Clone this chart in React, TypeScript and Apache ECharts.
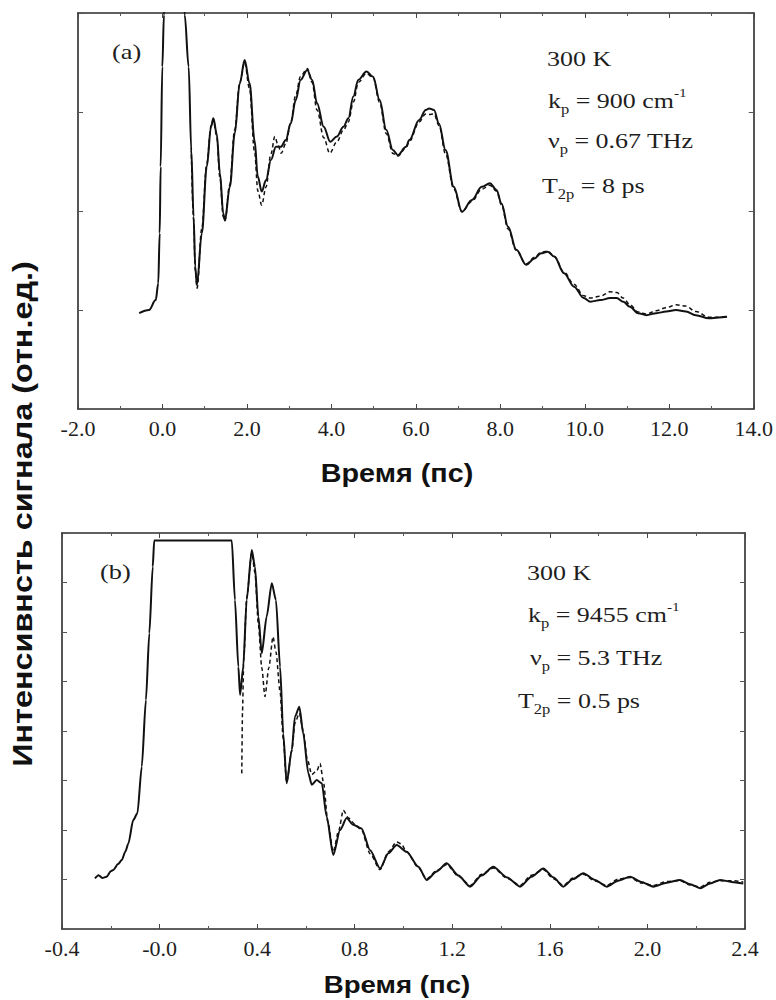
import React, { useEffect, useRef } from "react";
import * as echarts from "echarts";

// ---------- Panel (a) ----------
const topTime = [
  -0.55, -0.32, -0.16, -0.1, -0.066, -0.043, -0.004, 0.035, 0.12, 0.29, 0.45, 0.526, 0.62, 0.682, 0.737, 0.776,
  0.815, 0.932, 1.049, 1.15, 1.205, 1.283, 1.361, 1.439, 1.478, 1.595, 1.712, 1.829, 1.946, 2.063, 2.18, 2.257,
  2.351, 2.452, 2.569, 2.686, 2.803, 2.92, 3.037, 3.154, 3.271, 3.427, 3.544, 3.661, 3.817, 3.973, 4.129, 4.285,
  4.402, 4.519, 4.636, 4.83, 4.987, 5.142, 5.298, 5.455, 5.572, 5.766, 5.844, 6.078, 6.234, 6.312, 6.429, 6.546,
  6.702, 6.897, 7.092, 7.326, 7.56, 7.754, 7.91, 8.027, 8.183, 8.378, 8.612, 8.807, 8.963, 9.119, 9.275, 9.509,
  9.743, 9.977, 10.133, 10.367, 10.601, 10.756, 10.912, 11.068, 11.263, 11.458, 11.692, 11.926, 12.16, 12.394,
  12.627, 12.94, 13.174, 13.368,
];
const topSolid = [
  24.2, 25.0, 27.5, 31.7, 44.4, 61.2, 86.4, 99.5, 118, 126, 118, 99.5, 86.4, 65.4, 48.6, 35.9,
  31.3, 44.4, 61.2, 71.3, 73.4, 69.6, 59.5, 49.4, 47.6, 56.1, 69.6, 82.2, 88.1, 82.2, 67.9, 58.7,
  54.9, 57.8, 62.9, 66.2, 66.2, 67.9, 72.1, 78.0, 83.1, 85.6, 83.1, 77.2, 71.3, 67.5, 68.8, 71.3,
  73.4, 78.9, 83.1, 85.2, 83.9, 78.0, 70.5, 65.4, 64.1, 66.2, 67.9, 73.0, 75.5, 75.9, 75.5, 72.1,
  65.4, 56.1, 49.8, 52.8, 56.1, 57.0, 55.3, 51.9, 46.0, 40.2, 36.4, 38.0, 39.3, 39.7, 38.5, 34.3,
  30.9, 28.0, 27.1, 27.5, 28.0, 28.0, 27.1, 25.8, 24.2, 23.7, 24.2, 24.6, 25.0, 24.6,
  23.7, 22.9, 23.1, 23.3,
];
const topDashTime = [
  0.68, 0.737, 0.776, 0.82, 0.93, 1.049, 1.15, 1.205, 1.283, 1.36, 1.44, 1.48, 1.59, 1.71, 1.83, 1.946,
  2.06, 2.18, 2.26, 2.35, 2.45, 2.57, 2.66, 2.74, 2.81, 2.92, 3.04, 3.15, 3.27, 3.43, 3.54, 3.66,
  3.82, 3.96, 4.13, 4.29, 4.4, 4.52, 4.64, 4.83, 4.99, 5.14, 5.3, 5.46, 5.57, 5.77, 5.84, 6.08,
  6.23, 6.31, 6.43, 6.55, 6.7, 6.9, 7.09, 7.33, 7.56, 7.75, 7.91, 8.03, 8.18, 8.38, 8.61, 8.81,
  8.96, 9.12, 9.28, 9.51, 9.74, 9.98, 10.13, 10.37, 10.6, 10.76, 10.91, 11.07, 11.26, 11.46, 11.69, 11.93,
  12.16, 12.39, 12.63, 12.94, 13.17, 13.37,
];
const topDash = [
  66, 48, 35, 30.5, 45.5, 62, 71.5, 73, 69, 58.5, 48.5, 47.5, 56.5, 70.5, 82.5, 87.5,
  81, 65, 55, 51.5, 56, 64.5, 68.8, 66.5, 64.6, 67, 72.5, 79, 84, 86, 82.5, 75.5,
  68.5, 64.6, 67.5, 70.5, 72.5, 77.5, 82.5, 84.8, 83.5, 77.5, 69.5, 64.5, 63.8, 66, 67.5, 72.5,
  74.5, 74.4, 74.5, 71.5, 64.5, 55.5, 49.8, 52.5, 55.5, 56.5, 55, 51.5, 45.5, 40, 36.6, 38.3,
  39.5, 39.9, 38.5, 34.5, 31.5, 28.6, 28.0, 28.5, 29.6, 29.4, 28, 26.3, 24.5, 24, 24.8, 25.6,
  26.3, 26, 24.6, 23.2, 23.2, 23.4,
];

// ---------- Panel (b) ----------
const botTime = [
  -0.265, -0.25, -0.235, -0.217, -0.2, -0.19, -0.17, -0.155, -0.14, -0.128, -0.108, -0.091, -0.073, -0.056,
  -0.042, -0.028, -0.022, 0.296, 0.309, 0.323, 0.33, 0.343, 0.357, 0.378, 0.391, 0.405, 0.419, 0.439, 0.46,
  0.477, 0.494, 0.507, 0.521, 0.542, 0.555, 0.573, 0.589, 0.61, 0.624, 0.644, 0.665, 0.685, 0.712, 0.74,
  0.767, 0.794, 0.828, 0.863, 0.904, 0.938, 0.972, 1.013, 1.061, 1.095, 1.136, 1.177, 1.225, 1.273, 1.32,
  1.368, 1.425, 1.478, 1.525, 1.573, 1.615, 1.655, 1.695, 1.737, 1.785, 1.833, 1.88, 1.929, 1.975, 2.024,
  2.08, 2.133, 2.175, 2.216, 2.257, 2.298, 2.345, 2.393,
];
const botSolid = [
  12.8, 13.6, 12.9, 13.2, 14.6, 14.9, 16.4, 17.4, 19.6, 21.6, 27.5, 29.2, 41.0, 57.8,
  74.7, 91.5, 98.1, 98.1, 83.1, 66.2, 59.1, 66.2, 83.1, 95.7, 91.5, 78.9, 69.6, 78.9, 87.3,
  83.1, 66.2, 49.4, 36.8, 45.2, 53.6, 56.1, 49.4, 39.3, 36.4, 37.6, 36.8, 28.4, 18.7, 25.0,
  28.0, 26.3, 25.4, 19.9, 15.3, 19.1, 21.2, 19.5, 15.7, 12.4, 14.5, 16.6, 13.5, 10.7, 13.5,
  15.7, 13.0, 10.7, 13.2, 15.3, 13.0, 10.7, 12.6, 14.1, 12.4, 10.7, 12.2, 13.2, 11.9, 10.7,
  11.7, 12.4, 11.3, 10.3, 11.5, 12.4, 11.9, 11.5,
];
const botDashTime = [
  0.337, 0.34, 0.345, 0.357, 0.378, 0.391, 0.405, 0.419, 0.432, 0.448, 0.465, 0.477, 0.494, 0.507, 0.521, 0.542,
  0.555, 0.573, 0.589, 0.605, 0.624, 0.645, 0.658, 0.672, 0.69, 0.712, 0.735, 0.753, 0.775, 0.8, 0.828, 0.863,
  0.904, 0.938, 0.972, 0.99, 1.013, 1.061, 1.095, 1.136, 1.177, 1.225, 1.273, 1.32, 1.368, 1.425, 1.478, 1.525,
  1.573, 1.615, 1.655, 1.695, 1.737, 1.785, 1.833, 1.88, 1.929, 1.975, 2.024, 2.08, 2.133, 2.175, 2.216, 2.257,
  2.298, 2.345, 2.393,
];
const botDash = [
  39.3, 55, 68, 83.5, 95, 90, 77, 66, 58.7, 66, 73.8, 70, 60, 48, 37, 45,
  52, 54.5, 50, 43, 39, 40, 41.8, 37, 27, 19.5, 25, 30.0, 28, 26.5, 25, 19,
  15, 19.5, 22, 21.5, 19.5, 15.5, 12.6, 14.8, 16.3, 13.3, 11.0, 13.8, 15.4, 12.8, 11.0, 13.6,
  15.0, 12.7, 11.0, 12.9, 13.8, 12.1, 11.0, 12.6, 13.0, 11.6, 11.0, 12.0, 12.2, 11.1, 10.6, 11.8,
  12.2, 12.2, 11.9,
];

const topTickLabels = ["-2.0", "0.0", "2.0", "4.0", "6.0", "8.0", "10.0", "12.0", "14.0"];
const botTickLabels = ["-0.4", "-0.0", "0.4", "0.8", "1.2", "1.6", "2.0", "2.4"];

const yTitle = "Интенсивнсть сигнала (отн.ед.)";
const xTitle = "Время (пс)";
const annA = [
  "{n|300 K}",
  "{n|k}{s|p}{n| = 900 cm}{u|-1}",
  "{n|ν}{s|p}{n| = 0.67 THz}",
  "{n|T}{s|2p}{n| = 8 ps}",
];
const annB = [
  "{n|300 K}",
  "{n|k}{s|p}{n| = 9455 cm}{u|-1}",
  "{n|ν}{s|p}{n| = 5.3 THz}",
  "{n|T}{s|2p}{n| = 0.5 ps}",
];

const zip = (xs: number[], ys: number[]) => xs.map((x, i) => [x, ys[i]]);

const INK = "#1e1e1e";
const SERIF = '"Liberation Serif", "Times New Roman", serif';
const SANS = '"Liberation Sans", Arial, sans-serif';

function xAxes(gridIndex: number, min: number, max: number, interval: number, labels: string[]) {
  const line = { show: true, onZero: false, lineStyle: { color: "#2b2b2b", width: 1.6 } };
  const tick = { show: true, inside: true, length: 5, lineStyle: { color: "#444", width: 1 } };
  const minor = { show: true, splitNumber: 2, length: 3, lineStyle: { color: "#555", width: 1 } };
  return [
    {
      type: "value", gridIndex, min, max, interval, position: "bottom",
      axisLine: line, axisTick: tick, minorTick: minor, splitLine: { show: false },
      axisLabel: {
        show: true, margin: 8, color: INK, fontFamily: SERIF, fontSize: 22,
        formatter: (v: number) => labels[Math.round((v - min) / interval)] ?? "",
      },
    },
    {
      type: "value", gridIndex, min, max, interval, position: "top",
      axisLine: line, axisTick: tick, minorTick: minor, splitLine: { show: false },
      axisLabel: { show: false },
    },
  ];
}

function yAxes(gridIndex: number, interval: number) {
  const line = { show: true, onZero: false, lineStyle: { color: "#2b2b2b", width: 1.6 } };
  const tick = { show: true, inside: true, length: 5, lineStyle: { color: "#555", width: 1 } };
  return ["left", "right"].map((position) => ({
    type: "value", gridIndex, min: 0, max: 100, interval, position,
    axisLine: line, axisTick: tick, splitLine: { show: false }, axisLabel: { show: false },
  }));
}

function annText(lines: string[], xs: number[], ys: number[]) {
  return lines.map((t, i) => ({
    type: "text",
    x: xs[i],
    y: ys[i],
    scaleX: 1.18,
    style: {
      text: t,
      textAlign: "left",
      textVerticalAlign: "middle",
      fill: INK,
      rich: {
        n: { fontFamily: SERIF, fontSize: 22, lineHeight: 30, verticalAlign: "middle", fill: INK },
        s: { fontFamily: SERIF, fontSize: 14, lineHeight: 14, verticalAlign: "bottom", fill: INK },
        u: { fontFamily: SERIF, fontSize: 13, lineHeight: 13, verticalAlign: "top", fill: INK },
      },
    },
  }));
}

export default function App() {
  const ref = useRef<HTMLDivElement>(null);
  useEffect(() => {
    if (!ref.current) return;
    const chart = echarts.init(ref.current, null, { renderer: "svg" });
    const solid = { color: "#111", width: 2 };
    const dashed = { color: "#111", width: 1.5, type: [4, 3] };
    chart.setOption({
      animation: false,
      backgroundColor: "#ffffff",
      grid: [
        { left: 78, top: 13, width: 684, height: 396 },
        { left: 62, top: 533, width: 683, height: 396 },
      ],
      xAxis: [...xAxes(0, -2, 14, 2, topTickLabels), ...xAxes(1, -0.4, 2.4, 0.4, botTickLabels)],
      yAxis: [...yAxes(0, 25), ...yAxes(1, 12.5)],
      series: [
        { type: "line", xAxisIndex: 0, yAxisIndex: 0, data: zip(topDashTime, topDash), showSymbol: false, smooth: 0.35, smoothMonotone: "x", lineStyle: dashed, clip: true, z: 2 },
        { type: "line", xAxisIndex: 0, yAxisIndex: 0, data: zip(topTime, topSolid), showSymbol: false, smooth: 0.35, smoothMonotone: "x", lineStyle: solid, clip: true, z: 3 },
        { type: "line", xAxisIndex: 2, yAxisIndex: 2, data: zip(botDashTime, botDash), showSymbol: false, smooth: 0.25, smoothMonotone: "x", lineStyle: dashed, clip: true, z: 2 },
        { type: "line", xAxisIndex: 2, yAxisIndex: 2, data: zip(botTime, botSolid), showSymbol: false, smooth: 0.25, smoothMonotone: "x", lineStyle: solid, clip: true, z: 3 },
      ],
      graphic: [
        {
          type: "text", x: 22, y: 514, rotation: Math.PI / 2, scaleX: 1.2,
          style: { text: yTitle, font: `bold 27px ${SANS}`, fill: "#111", textAlign: "center", textVerticalAlign: "middle" },
        },
        {
          type: "text", x: 397, y: 474, scaleX: 1.15,
          style: { text: xTitle, font: `bold 25px ${SANS}`, fill: "#111", textAlign: "center", textVerticalAlign: "middle" },
        },
        {
          type: "text", x: 397, y: 985, scaleX: 1.15,
          style: { text: xTitle, font: `bold 24px ${SANS}`, fill: "#111", textAlign: "center", textVerticalAlign: "middle" },
        },
        {
          type: "text", x: 112, y: 51, scaleX: 1.2,
          style: { text: "(a)", font: `22px ${SERIF}`, fill: INK, textAlign: "left", textVerticalAlign: "middle" },
        },
        {
          type: "text", x: 100, y: 571, scaleX: 1.2,
          style: { text: "(b)", font: `22px ${SERIF}`, fill: INK, textAlign: "left", textVerticalAlign: "middle" },
        },
        ...annText(annA, [547, 548, 548, 542], [59, 101, 141, 186]),
        ...annText(annB, [527, 528, 530, 518], [573, 615, 658, 701]),
      ],
    });
    return () => chart.dispose();
  }, []);
  return <div ref={ref} style={{ position: "absolute", left: 0, top: 0, width: 776, height: 1000 }} />;
}
